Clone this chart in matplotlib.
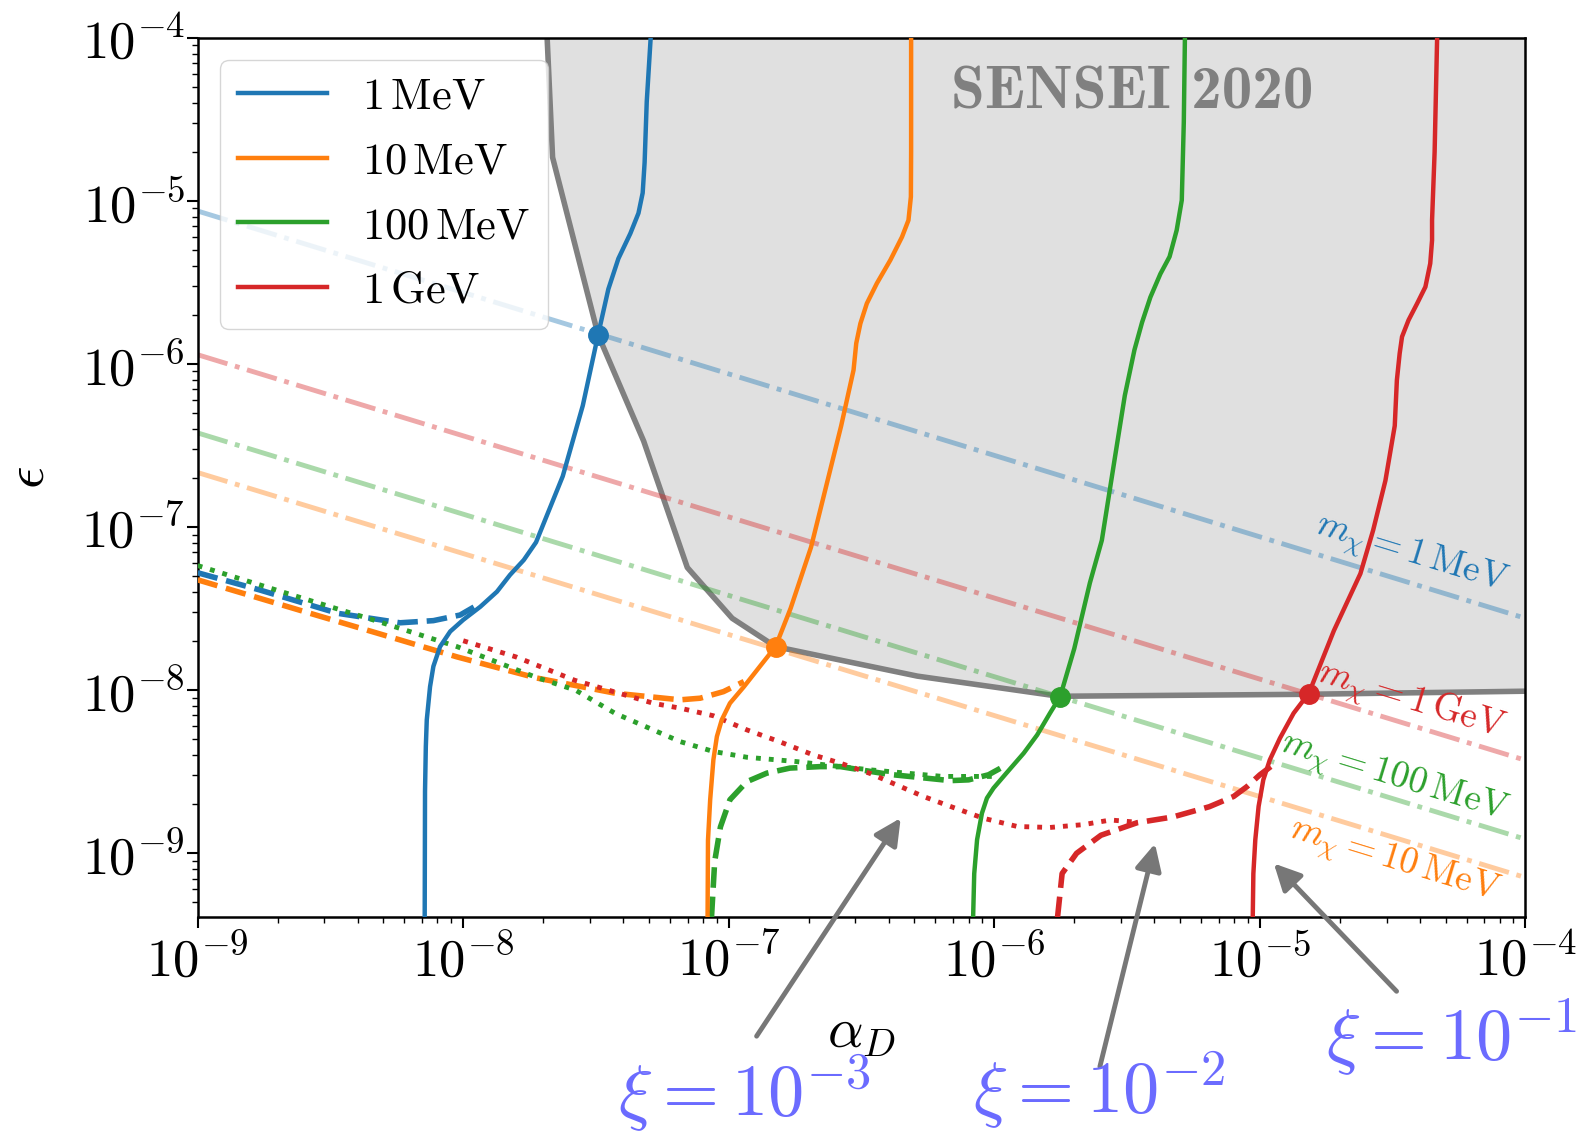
import matplotlib
matplotlib.use('Agg')
import matplotlib.pyplot as plt

plt.rcParams['font.family'] = 'serif'
plt.rcParams['font.serif'] = ['cmr10']
plt.rcParams['mathtext.fontset'] = 'cm'
plt.rcParams['axes.formatter.use_mathtext'] = True

# masses and colours
masses = [r'$1\,\mathrm{MeV}$', r'$10\,\mathrm{MeV}$', r'$100\,\mathrm{MeV}$', r'$1\,\mathrm{GeV}$']
colors = ['#1f77b4', '#ff7f0e', '#2ca02c', '#d62728']

# SENSEI 2020 exclusion boundary
sensei_a = [2.07e-8, 2.17e-8, 3.22e-8, 4.78e-8, 6.98e-8, 1.03e-7, 1.50e-7, 5.13e-7, 1.75e-6, 1.51e-5, 1e-4]
sensei_e = [1e-4, 1.85e-5, 1.51e-6, 3.37e-7, 5.65e-8, 2.76e-8, 1.85e-8, 1.22e-8, 9.18e-9, 9.44e-9, 9.86e-9]

# m_chi lines (dash-dot), end points
mline_a = [1e-9, 1e-4]
mline_1mev = [8.67e-6, 2.76e-8]
mline_10mev = [2.16e-7, 7.10e-10]
mline_100mev = [3.78e-7, 1.22e-9]
mline_1gev = [1.14e-6, 3.72e-9]

# solid curves
solid_1mev_a = [7.16e-9, 7.18e-9, 7.23e-9, 7.29e-9, 7.50e-9, 7.72e-9, 8.18e-9, 8.93e-9, 1.00e-8, 1.16e-8,
                1.34e-8, 1.50e-8, 1.69e-8, 1.88e-8, 2.37e-8, 2.82e-8, 3.22e-8, 3.52e-8, 3.84e-8, 4.26e-8,
                4.57e-8, 4.74e-8, 4.82e-8, 4.91e-8, 5.08e-8]
solid_1mev_e = [4.06e-10, 2.4e-9, 4.5e-9, 6.58e-9, 1.05e-8, 1.40e-8, 1.85e-8, 2.29e-8, 2.70e-8, 3.25e-8,
                4.02e-8, 5.09e-8, 6.28e-8, 8.07e-8, 2.05e-7, 5.56e-7, 1.51e-6, 2.88e-6, 4.43e-6, 6.32e-6,
                8.41e-6, 1.12e-5, 1.72e-5, 4.06e-5, 1e-4]
solid_10mev_a = [8.32e-8, 8.35e-8, 8.51e-8, 8.75e-8, 9.02e-8, 9.41e-8, 1.01e-7, 1.14e-7, 1.31e-7, 1.50e-7,
                 1.71e-7, 2.04e-7, 2.65e-7, 2.95e-7, 3.02e-7, 3.13e-7, 3.31e-7, 3.61e-7, 4.06e-7, 4.49e-7,
                 4.75e-7, 4.85e-7, 4.86e-7, 4.86e-7]
solid_10mev_e = [4.06e-10, 1.2e-9, 2.13e-9, 3.74e-9, 5.20e-9, 6.58e-9, 8.32e-9, 1.05e-8, 1.40e-8, 1.85e-8,
                 3.18e-8, 7.52e-8, 4.18e-7, 9.18e-7, 1.34e-6, 1.77e-6, 2.35e-6, 3.12e-6, 4.34e-6, 6.01e-6,
                 7.62e-6, 1.06e-5, 2.0e-5, 1e-4]
solid_100mev_a = [8.32e-7, 8.40e-7, 8.61e-7, 8.98e-7, 9.38e-7, 9.93e-7, 1.11e-6, 1.29e-6, 1.45e-6, 1.62e-6,
                  1.77e-6, 2.00e-6, 2.29e-6, 2.54e-6, 2.85e-6, 3.10e-6, 3.37e-6, 3.60e-6, 3.87e-6, 4.22e-6,
                  4.57e-6, 4.86e-6, 5.08e-6, 5.17e-6, 5.22e-6]
solid_100mev_e = [4.06e-10, 7.5e-10, 1.21e-9, 1.76e-9, 2.18e-9, 2.51e-9, 3.10e-9, 4.11e-9, 5.32e-9, 7.23e-9,
                  9.14e-9, 1.80e-8, 4.55e-8, 8.30e-8, 2.72e-7, 6.41e-7, 1.22e-6, 1.80e-6, 2.57e-6, 3.57e-6,
                  4.55e-6, 6.61e-6, 1.01e-5, 3.05e-5, 1e-4]
solid_1gev_a = [9.40e-6, 9.45e-6, 9.61e-6, 9.89e-6, 1.03e-5, 1.09e-5, 1.19e-5, 1.34e-5, 1.53e-5, 1.90e-5,
                2.39e-5, 2.67e-5, 2.97e-5, 3.22e-5, 3.28e-5, 3.36e-5, 3.43e-5, 3.63e-5, 3.91e-5, 4.20e-5,
                4.38e-5, 4.45e-5, 4.45e-5, 4.55e-5, 4.65e-5]
solid_1gev_e = [4.06e-10, 7.5e-10, 1.21e-9, 1.94e-9, 2.82e-9, 3.74e-9, 5.08e-9, 7.23e-9, 9.60e-9, 2.32e-8,
                5.18e-8, 9.57e-8, 1.93e-7, 4.18e-7, 7.96e-7, 1.16e-6, 1.47e-6, 1.86e-6, 2.35e-6, 2.97e-6,
                4.13e-6, 5.74e-6, 7.62e-6, 2.0e-5, 1e-4]

# dashed curves
dash_1mev_a = [1e-9, 1.71e-9, 3.37e-9, 5.78e-9, 7.72e-9, 9.73e-9, 1.16e-8]
dash_1mev_e = [5.25e-8, 4.12e-8, 2.96e-8, 2.59e-8, 2.67e-8, 2.89e-8, 3.41e-8]
dash_10mev_a = [1e-9, 2.41e-9, 4.78e-9, 9.48e-9, 1.88e-8, 3.74e-8, 6.56e-8, 7.80e-8, 9.55e-8, 1.14e-7]
dash_10mev_e = [4.75e-8, 3.10e-8, 2.23e-8, 1.60e-8, 1.19e-8, 9.58e-9, 8.73e-9, 8.93e-9, 9.80e-9, 1.13e-8]
dash_100mev_a = [8.61e-8, 8.85e-8, 9.3e-8, 1.01e-7, 1.17e-7, 1.39e-7, 1.70e-7, 2.21e-7, 2.63e-7, 4.0e-7,
                 6.82e-7, 8.00e-7, 9.51e-7, 1.11e-6]
dash_100mev_e = [4.06e-10, 8.92e-10, 1.45e-9, 2.13e-9, 2.75e-9, 3.10e-9, 3.33e-9, 3.40e-9, 3.40e-9, 3.05e-9,
                 2.79e-9, 2.82e-9, 3.03e-9, 3.48e-9]
dash_1gev_a = [1.73e-6, 1.80e-6, 2.04e-6, 2.52e-6, 3.45e-6, 4.70e-6, 6.45e-6, 7.96e-6, 8.93e-6, 1.00e-5, 1.12e-5]
dash_1gev_e = [4.06e-10, 7.52e-10, 1.0e-9, 1.29e-9, 1.54e-9, 1.67e-9, 1.93e-9, 2.23e-9, 2.56e-9, 3.03e-9, 3.48e-9]

# dotted curves
dot_100mev_a = [1e-9, 2.41e-9, 4.78e-9, 9.48e-9, 1.88e-8, 2.65e-8, 3.74e-8, 6.56e-8, 8.75e-8, 1.17e-7,
                1.80e-7, 2.63e-7, 3.4e-7, 6.38e-7, 1.04e-6]
dot_100mev_e = [5.81e-8, 3.72e-8, 2.64e-8, 1.85e-8, 1.20e-8, 1.0e-8, 7.20e-9, 4.84e-9, 4.21e-9, 3.88e-9,
                3.65e-9, 3.40e-9, 3.25e-9, 2.96e-9, 2.96e-9]
dot_1gev_a = [1.0e-8, 1.58e-8, 2.63e-8, 5.22e-8, 6.56e-8, 8.75e-8, 1.17e-7, 1.55e-7, 2.08e-7, 2.63e-7,
              3.40e-7, 5.41e-7, 6.82e-7, 9.10e-7, 1.22e-6, 1.62e-6, 2.17e-6, 2.74e-6, 3.45e-6]
dot_1gev_e = [2.01e-8, 1.60e-8, 1.15e-8, 8.30e-9, 7.76e-9, 6.97e-9, 5.71e-9, 4.84e-9, 4.01e-9, 3.57e-9,
              3.09e-9, 2.23e-9, 1.94e-9, 1.64e-9, 1.46e-9, 1.44e-9, 1.50e-9, 1.60e-9, 1.55e-9]

# crossing points
cross_a = [3.22e-8, 1.50e-7, 1.77e-6, 1.53e-5]
cross_e = [1.51e-6, 1.83e-8, 9.14e-9, 9.50e-9]

fig = plt.figure(figsize=(15.89, 11.46), dpi=100)
ax = fig.add_axes([0.1244, 0.1997, 0.8356, 0.7673])
ax.set_xscale('log')
ax.set_yscale('log')

# shaded region
ax.fill(sensei_a + [1e-4], sensei_e + [1e-4], color='#e0e0e0', lw=0, zorder=0)
ax.plot(sensei_a, sensei_e, color='#808080', lw=4, zorder=1)

mlines = [mline_1mev, mline_10mev, mline_100mev, mline_1gev]
for e, c in zip(mlines, colors):
    ax.plot(mline_a, e, ls='-.', color=c, lw=3.5, alpha=0.4, zorder=2)

ax.plot(dash_1mev_a, dash_1mev_e, ls='--', color=colors[0], lw=4, zorder=3)
ax.plot(dash_10mev_a, dash_10mev_e, ls='--', color=colors[1], lw=4, zorder=3)
ax.plot(dash_100mev_a, dash_100mev_e, ls='--', color=colors[2], lw=4, zorder=3)
ax.plot(dash_1gev_a, dash_1gev_e, ls='--', color=colors[3], lw=4, zorder=3)
ax.plot(dot_100mev_a, dot_100mev_e, ls=':', color=colors[2], lw=3.5, zorder=3)
ax.plot(dot_1gev_a, dot_1gev_e, ls=':', color=colors[3], lw=3.5, zorder=3)

solids = [(solid_1mev_a, solid_1mev_e), (solid_10mev_a, solid_10mev_e),
          (solid_100mev_a, solid_100mev_e), (solid_1gev_a, solid_1gev_e)]
for (a, e), c, lab in zip(solids, colors, masses):
    ax.plot(a, e, color=c, lw=3.2, label=lab, zorder=4, solid_joinstyle='round')

for a, e, c in zip(cross_a, cross_e, colors):
    ax.plot(a, e, 'o', color=c, ms=14, zorder=5)

ax.set_xlim(1e-9, 1e-4)
ax.set_ylim(4.06e-10, 1e-4)

# m_chi labels
mlabels = [r'$m_\chi = 1\,\mathrm{MeV}$', r'$m_\chi = 10\,\mathrm{MeV}$',
           r'$m_\chi = 100\,\mathrm{MeV}$', r'$m_\chi = 1\,\mathrm{GeV}$']
mlabel_pos = [(3.71e-5, 6.70e-8), (3.19e-5, 8.91e-10), (3.19e-5, 2.88e-9), (3.71e-5, 8.55e-9)]
for lab, (x, y), c in zip(mlabels, mlabel_pos, colors):
    ax.text(x, y, lab, color=c, fontsize=27, rotation=-17, ha='center', va='center',
            rotation_mode='anchor', zorder=6)

ax.text(0.704, 0.937, 'SENSEI 2020', transform=ax.transAxes, color='#808080',
        fontsize=44, fontname='cmb10', ha='center', va='center')

# xi annotations (text and arrow tails in axes fraction, heads in data)
xi_text = [r'$\xi = 10^{-3}$', r'$\xi = 10^{-2}$', r'$\xi = 10^{-1}$']
xi_text_pos = [(0.412, -0.200), (0.679, -0.197), (0.944, -0.136)]
arrow_tail = [(0.4198, -0.138), (0.679, -0.173), (0.9044, -0.0866)]
arrow_head = [(4.50e-7, 1.70e-9), (4.05e-6, 1.19e-9), (1.11e-5, 8.91e-10)]
for t, tp, tail, head in zip(xi_text, xi_text_pos, arrow_tail, arrow_head):
    ax.annotate('', xy=head, xycoords='data', xytext=tail, textcoords='axes fraction',
                annotation_clip=False,
                arrowprops=dict(arrowstyle='-|>', color='#777777', lw=3.5, mutation_scale=40))
    ax.text(tp[0], tp[1], t, transform=ax.transAxes, color='#6b6bff', fontsize=52,
            ha='center', va='center', clip_on=False)

ax.set_xlabel(r'$\alpha_D$', fontsize=40)
ax.xaxis.set_label_coords(0.5, -0.105)
ax.set_ylabel(r'$\epsilon$', fontsize=40)
ax.yaxis.set_label_coords(-0.108, 0.5)

ax.tick_params(which='major', length=8, width=1.5, labelsize=38, direction='out')
ax.tick_params(which='minor', length=4.5, width=1.0, direction='out')
ax.tick_params(axis='x', which='major', pad=4)
ax.tick_params(axis='y', which='major', pad=1)
for s in ax.spines.values():
    s.set_linewidth(1.8)

ax.legend(loc='upper left', fontsize=32, handlelength=2.0, labelspacing=0.55)

fig.savefig('out.png', dpi=100)
